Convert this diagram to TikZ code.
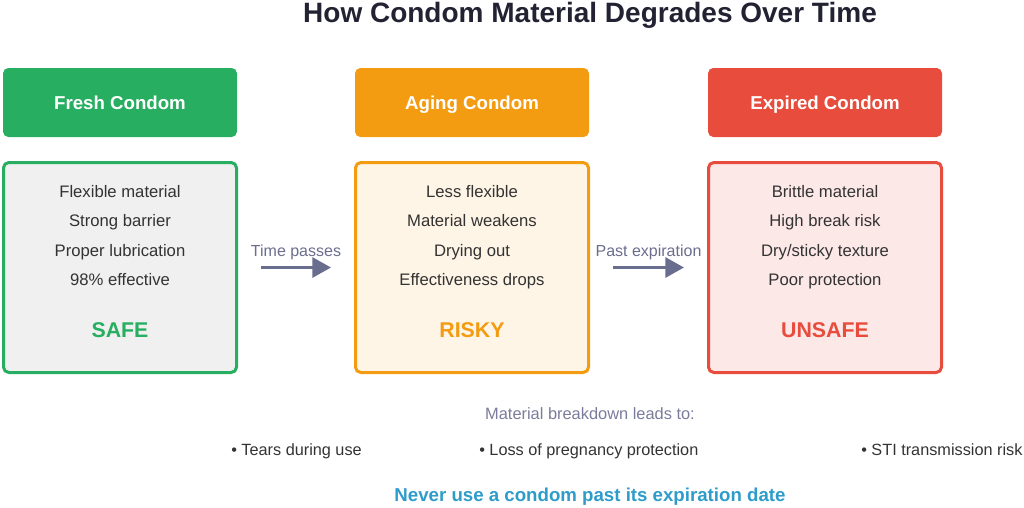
\documentclass[tikz,border=0pt]{standalone}
\usepackage{fontspec}
\setmainfont{Liberation Sans}
\usetikzlibrary{arrows.meta,positioning}

\definecolor{freshgreen}{HTML}{27AE60}
\definecolor{agingorange}{HTML}{F39C12}
\definecolor{expiredred}{HTML}{E74C3C}
\definecolor{freshfill}{HTML}{F0F0F0}
\definecolor{agingfill}{HTML}{FEF5E6}
\definecolor{expiredfill}{HTML}{FDE8E8}
\definecolor{titleink}{HTML}{222233}
\definecolor{bodyink}{HTML}{333333}
\definecolor{flowink}{HTML}{6A6E8E}
\definecolor{noteink}{HTML}{7B7B9B}
\definecolor{warnink}{HTML}{2E9CCA}

\tikzset{
	header/.style={rounded corners=4pt, minimum width=175.5pt, minimum height=51.75pt,
		text=white, text height=10pt, text depth=0pt, font=\bfseries\fontsize{14}{17}\selectfont},
	body/.style={draw, line width=2.25pt, rounded corners=4pt,
		minimum width=174.75pt, minimum height=157.5pt},
	lines/.style={align=center, text=bodyink, font=\fontsize{12.5}{22}\selectfont,
		execute at begin node=\strut, execute at end node=\strut},
	status/.style={text height=11.5pt, text depth=0pt, font=\bfseries\fontsize{16}{19}\selectfont},
	flow/.style={draw=flowink, line width=2.25pt, -{Triangle[length=14pt,width=15pt]},
		shorten <=17.25pt, shorten >=17.25pt},
	flowlabel/.style={midway, yshift=11.5pt, text=flowink, font=\fontsize{12}{14}\selectfont},
	bullet/.style={anchor=base west, inner sep=0pt, text=bodyink, font=\fontsize{12.2}{14}\selectfont}
}

\begin{document}
\begin{tikzpicture}[x=0.75pt, y=-0.75pt]

	\useasboundingbox (0,0) rectangle (1024,507);

	\node[text=titleink, font=\bfseries\fontsize{21}{25}\selectfont] (title) at (590,15)
		{How Condom Material Degrades Over Time};

	% stage headers
	\node[header, fill=freshgreen] (freshhead) at (120,102.5) {Fresh Condom};
	\node[header, fill=agingorange] (aginghead) at (472,102.5) {Aging Condom};
	\node[header, fill=expiredred] (expiredhead) at (825,102.5) {Expired Condom};

	% stage bodies
	\node[body, draw=freshgreen, fill=freshfill] (freshbody) at (120,267.5) {};
	\node[body, draw=agingorange, fill=agingfill] (agingbody) at (472,267.5) {};
	\node[body, draw=expiredred, fill=expiredfill] (expiredbody) at (825,267.5) {};

	\node[lines] (freshlist) at (120,240)
		{Flexible material\\Strong barrier\\Proper lubrication\\98\% effective};
	\node[lines] (aginglist) at (472,240)
		{Less flexible\\Material weakens\\Drying out\\Effectiveness drops};
	\node[lines] (expiredlist) at (825,240)
		{Brittle material\\High break risk\\Dry/sticky texture\\Poor protection};

	\node[status, text=freshgreen] (freshstatus) at (120,330) {SAFE};
	\node[status, text=agingorange] (agingstatus) at (472,330) {RISKY};
	\node[status, text=expiredred] (expiredstatus) at (825,330) {UNSAFE};

	% time arrows
	\draw[flow] (freshbody.east) -- node[flowlabel] {Time passes} (agingbody.west);
	\draw[flow] (agingbody.east) -- node[flowlabel] {Past expiration} (expiredbody.west);

	% consequences
	\node[text=noteink, font=\fontsize{12.3}{14}\selectfont] (breakdown) at (590,414)
		{Material breakdown leads to:};
	\node[bullet] (tears) at (231,455) {• Tears during use};
	\node[bullet] (pregnancy) at (479,455) {• Loss of pregnancy protection};
	\node[bullet] (sti) at (861,455) {• STI transmission risk};

	\node[text=warnink, font=\bfseries\fontsize{14}{17}\selectfont] (warning) at (590,497)
		{Never use a condom past its expiration date};

\end{tikzpicture}
\end{document}
